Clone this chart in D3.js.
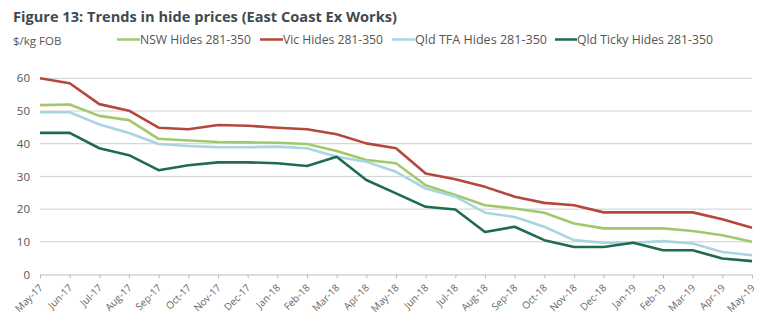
<!DOCTYPE html>
<html><head><meta charset="utf-8">
<script src="https://cdn.jsdelivr.net/npm/d3@7"></script>
<style>body{margin:0;background:#fff}svg{display:block}</style>
</head><body>
<svg id="c" width="768" height="331"></svg>
<script>
const months = ["May-17","Jun-17","Jul-17","Aug-17","Sep-17","Oct-17","Nov-17","Dec-17","Jan-18","Feb-18","Mar-18","Apr-18","May-18","Jun-18","Jul-18","Aug-18","Sep-18","Oct-18","Nov-18","Dec-18","Jan-19","Feb-19","Mar-19","Apr-19","May-19"];
const nsw   = [51.8,52.0,48.5,47.2,41.5,41.0,40.5,40.4,40.3,39.9,37.8,35.0,34.0,27.3,24.3,21.2,20.2,18.9,15.6,14.1,14.1,14.1,13.3,12.0,10.0];
const vic   = [60.0,58.5,52.1,50.1,44.9,44.4,45.7,45.5,44.9,44.4,42.9,40.1,38.6,30.9,29.1,26.8,23.8,21.9,21.2,19.0,19.0,19.0,19.0,16.9,14.3];
const tfa   = [49.6,49.6,45.9,43.3,39.9,39.3,38.9,38.9,39.1,38.6,36.0,34.5,31.4,26.3,23.8,18.9,17.6,14.6,10.5,9.7,9.7,10.2,9.5,6.9,5.9];
const ticky = [43.3,43.3,38.6,36.5,31.9,33.4,34.3,34.3,34.0,33.2,36.0,28.9,24.8,20.7,19.9,13.0,14.6,10.5,8.4,8.4,9.7,7.4,7.4,4.9,4.1];
const yTicks = [0,10,20,30,40,50,60];
const seriesNames = ["NSW Hides 281-350","Vic Hides 281-350","Qld TFA Hides 281-350","Qld Ticky Hides 281-350"];
const seriesData = [nsw, vic, tfa, ticky];
const colors = ["#a3c86b","#b5473c","#a9d4e2","#1f6b4e"];

const svg = d3.select("#c");
const font = "'Open Sans', Lato, sans-serif";
const x = d3.scalePoint().domain(months).range([40,752]);
const y = d3.scaleLinear().domain([0,60]).range([274.5,78.3]);

svg.append("text").attr("x",13).attr("y",22).attr("font-family",font).attr("font-weight",700)
  .attr("font-size",14.5).attr("fill","#3f4a4e").attr("textLength",384).attr("lengthAdjust","spacingAndGlyphs")
  .text("Figure 13: Trends in hide prices (East Coast Ex Works)");
svg.append("text").attr("x",13).attr("y",45).attr("font-family",font).attr("font-size",11.5).attr("fill","#555")
  .text("$/kg FOB");

// legend
const legX = [[117,140],[260,283],[392,415],[555,577]];
const legW = [111,100,132,136];
seriesNames.forEach((n,i)=>{
  svg.append("line").attr("x1",legX[i][0]).attr("x2",legX[i][1]).attr("y1",39.5).attr("y2",39.5)
    .attr("stroke",colors[i]).attr("stroke-width",2.5);
  svg.append("text").attr("x",legX[i][1]).attr("y",44).attr("font-family",font).attr("font-size",12)
    .attr("fill","#555").attr("textLength",legW[i]).attr("lengthAdjust","spacingAndGlyphs").text(n);
});

// grid
svg.append("g").selectAll("line").data(yTicks.filter(d=>d>0)).join("line")
  .attr("x1",40).attr("x2",752).attr("y1",d=>y(d)).attr("y2",d=>y(d))
  .attr("stroke","#cfcfcf").attr("stroke-width",1);

// y axis labels
const ya = svg.append("g").attr("transform","translate(40,0)")
  .call(d3.axisLeft(y).tickValues(yTicks).tickSize(0).tickPadding(10));
ya.select(".domain").remove();
ya.selectAll("text").attr("font-family",font).attr("font-size",11.5).attr("fill","#555");

// x axis
const xa = svg.append("g").attr("transform",`translate(0,${y(0)})`)
  .call(d3.axisBottom(x).tickSize(4));
xa.select(".domain").attr("stroke","#bdbdbd").attr("d","M40,0.5H752");
xa.selectAll(".tick line").attr("stroke","#bdbdbd");
xa.selectAll("text").attr("font-family",font).attr("font-size",10).attr("fill","#666")
  .attr("text-anchor","end").attr("x",0).attr("y",0).attr("dy",null)
  .attr("transform","translate(3,14) rotate(-45)");

// lines
const line = d3.line().x((d,i)=>x(months[i])).y(d=>y(d));
[0,2,3,1].forEach(i=>{
  svg.append("path").datum(seriesData[i]).attr("d",line).attr("fill","none")
    .attr("stroke",colors[i]).attr("stroke-width",2.6).attr("stroke-linejoin","round");
});
</script>
</body></html>
